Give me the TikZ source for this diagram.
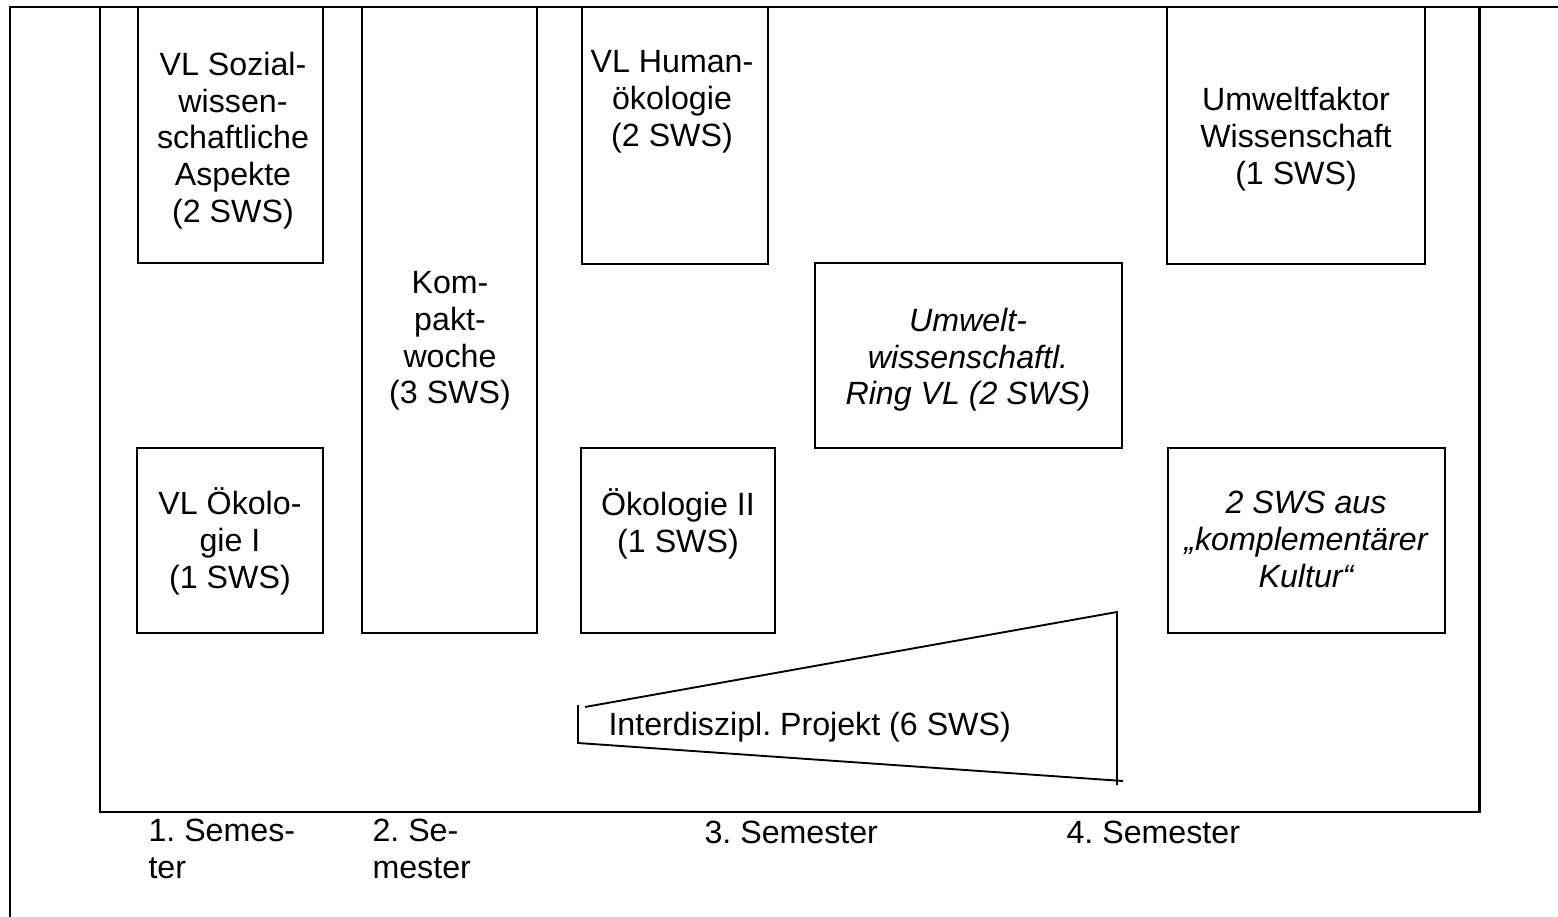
\documentclass[tikz,border=0pt]{standalone}
\usepackage{fontspec}
\setmainfont{Liberation Sans}
\frenchspacing
\tikzstyle{frameline} = [line width=1.1pt]
\tikzstyle{blockline} = [line width=1pt]
\tikzstyle{projline} = [line width=0.7pt]
\tikzstyle{blocktext} = [align=center, anchor=base, inner sep=0pt, font=\fontsize{12}{13.8}\selectfont]
\tikzstyle{semtext} = [align=left, anchor=base west, inner sep=0pt, font=\fontsize{12}{13.8}\selectfont]

\begin{document}
\begin{tikzpicture}[x=0.373pt, y=-0.373pt]
        \useasboundingbox (0,0) rectangle (1558,917);
        % frames
        \draw [frameline] (10,917) -- (10,7) -- (1558,7);
        \draw [frameline] (100,7) -- (100,812) -- (1479,812) -- (1479,7);
        % blocks
        \draw [blockline] (138,7) rectangle (323,263);
        \draw [blockline] (362,7) rectangle (537,633);
        \draw [blockline] (582,7) rectangle (768,264);
        \draw [blockline] (1167,7) rectangle (1425,264);
        \draw [blockline] (815,263) rectangle (1122,448);
        \draw [blockline] (137,448) rectangle (323,633);
        \draw [blockline] (581,448) rectangle (775,633);
        \draw [blockline] (1168,448) rectangle (1445,633);
        % texts (base = last line)
        \node (sozial) [blocktext] at (233,223) {VL Sozial-\\wissen-\\schaftliche\\Aspekte\\(2 SWS)};
        \node (kompakt) [blocktext] at (450,404) {Kom-\\pakt-\\woche\\(3 SWS)};
        \node (human) [blocktext] at (672,147) {VL Human-\\ökologie\\(2 SWS)};
        \node (faktor) [blocktext] at (1296,185) {Umweltfaktor\\Wissenschaft\\(1 SWS)};
        \node (ring) [blocktext, font=\fontsize{12}{13.8}\selectfont\itshape] at (968,405) {Umwelt-\\wissenschaftl.\\Ring VL (2 SWS)};
        \node (oekoI) [blocktext] at (230,588) {VL Ökolo-\\gie I\\(1 SWS)};
        \node (oekoII) [blocktext] at (678,552) {Ökologie II\\(1 SWS)};
        \node (kultur) [blocktext, font=\fontsize{12}{13.8}\selectfont\itshape] at (1306,587) {2 SWS aus\\„komplementärer\\Kultur“};
        % project
        \coordinate (pa) at (578,705);
        \coordinate (pb) at (578,743);
        \coordinate (pc) at (1117,612);
        \coordinate (pd) at (1117,785);
        \draw [projline] (pa) -- (pb) -- (1123,781);
        \draw [projline] (585,707) -- (pc) -- (pd);
        \node (projekt) [semtext] at (608,735) {Interdiszipl. Projekt (6 SWS)};
        % semesters
        \node (sem1) [semtext] at (148,878) {1. Semes-\\ter};
        \node (sem2) [semtext] at (372,878) {2. Se-\\mester};
        \node (sem3) [semtext] at (704,843) {3. Semester};
        \node (sem4) [semtext] at (1066,843) {4. Semester};
    \end{tikzpicture}
\end{document}
